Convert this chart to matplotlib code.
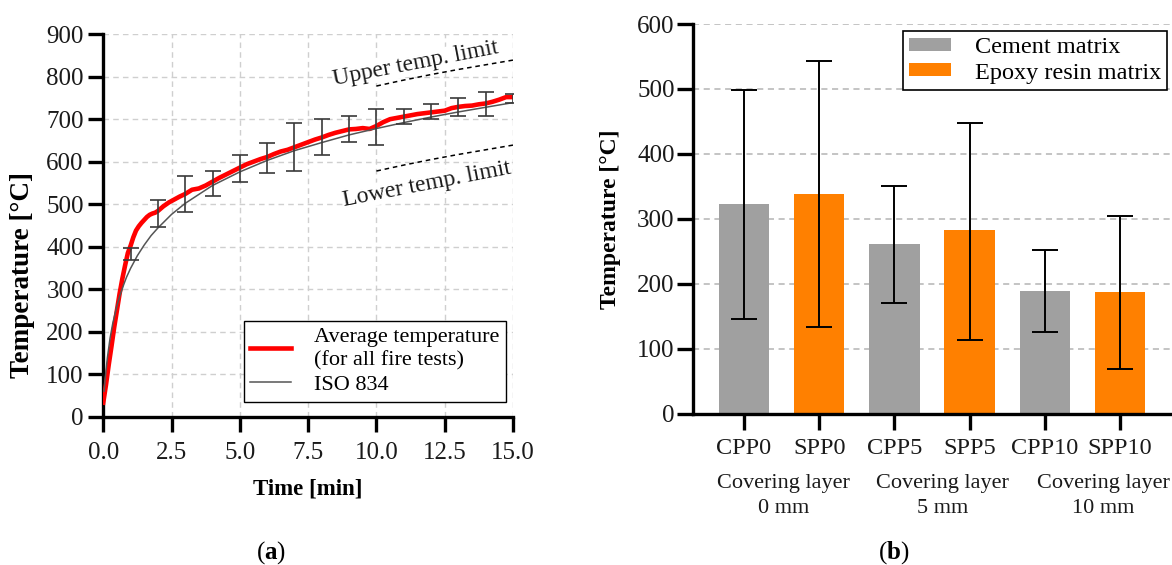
import numpy as np
import matplotlib
matplotlib.use("Agg")
import matplotlib.pyplot as plt
from matplotlib.ticker import FormatStrFormatter

plt.rcParams['font.family'] = ['Liberation Serif', 'DejaVu Serif']
plt.rcParams['mathtext.fontset'] = 'custom'
plt.rcParams['mathtext.rm'] = 'Liberation Serif'
plt.rcParams['mathtext.bf'] = 'Liberation Serif:bold'

# (a) furnace temperature
avg_t = [0.0, 0.1, 0.2, 0.3, 0.4, 0.5, 0.6, 0.7, 0.8, 0.9, 1.0, 1.1, 1.2, 1.3, 1.4,
         1.5, 1.6, 1.7, 1.8, 1.9, 2.0, 2.2, 2.4, 2.6, 2.8, 3.0, 3.25, 3.5, 3.75, 4.0,
         4.25, 4.5, 4.75, 5.0, 5.25, 5.5, 5.75, 6.0, 6.25, 6.5, 6.75, 7.0, 7.25, 7.5,
         7.75, 8.0, 8.25, 8.5, 8.75, 9.0, 9.25, 9.5, 9.75, 10.0, 10.25, 10.5, 10.75,
         11.0, 11.25, 11.5, 11.75, 12.0, 12.25, 12.5, 12.75, 13.0, 13.25, 13.5, 13.75,
         14.0, 14.25, 14.5, 14.75, 15.0]
avg_temp = [33, 75, 122, 165, 210, 250, 290, 325, 356, 385, 402, 422, 438, 448, 456,
            463, 470, 475, 478, 480, 484, 495, 504, 511, 518, 524, 534, 537, 544, 553,
            562, 570, 578, 586, 594, 600, 606, 611, 618, 624, 628, 634, 640, 646,
            652, 657, 663, 668, 672, 676, 677, 679, 677, 684, 693, 700, 703,
            706, 709, 712, 714, 716, 718, 720, 726, 729, 731, 732, 735,
            737, 741, 746, 752, 752]

iso_t = [0.03, 0.1, 0.15, 0.25, 0.35, 0.5, 0.6, 0.75, 0.85, 1.0, 1.25, 1.5, 1.75, 2.0,
         2.5, 3, 4, 5, 6, 7, 8, 9, 10, 11, 12, 13, 14, 15]
iso_temp = [60, 108, 138, 185, 220, 261, 283, 311, 328, 349, 379, 404, 426, 444,
            476, 502, 544, 576, 603, 626, 645, 663, 678, 692, 705, 717, 728, 739]

eb_t = [1, 2, 3, 4, 5, 6, 7, 8, 9, 10, 11, 12, 13, 14, 15]
eb_hi = [398, 510, 566, 578, 616, 645, 691, 701, 707, 725, 724, 736, 749, 765, 760]
eb_lo = [368, 446, 481, 519, 552, 573, 579, 615, 647, 640, 689, 700, 708, 708, 739]

lim_t = [10, 11, 12, 13, 14, 15]
upper_lim = [778, 792, 805, 817, 828, 839]
lower_lim = [578, 592, 605, 617, 628, 639]

# (b) maximum temperatures
samples = ['CPP0', 'SPP0', 'CPP5', 'SPP5', 'CPP10', 'SPP10']
means = [322, 338, 261, 282, 188, 187]
tops = [499, 543, 350, 448, 252, 304]
bottoms = [146, 133, 171, 114, 125, 69]
groups = ['Covering layer\n0 mm', 'Covering layer\n5 mm', 'Covering layer\n10 mm']
group_pos = [0.53, 2.64, 4.78]

GRAY = '#a0a0a0'
ORANGE = '#ff8000'
TXT = '#1a1a1a'

fig = plt.figure(figsize=(11.72, 5.65), dpi=100)

# ---------- (a) ----------
ax = fig.add_axes([0.0881, 0.2625, 0.3496, 0.677])
ax.plot(avg_t, avg_temp, color='red', lw=3.3, label='Average temperature\n(for all fire tests)', zorder=3)
ax.plot(iso_t, iso_temp, color='#555555', lw=1.1, label='ISO 834', zorder=4)
hi = np.array(eb_hi)
lo = np.array(eb_lo)
ax.errorbar(eb_t, (hi + lo) / 2, yerr=(hi - lo) / 2, fmt='none', ecolor='#3a3a3a',
            elinewidth=1.2, capsize=5.5, capthick=1.2, zorder=5)
ax.plot(lim_t, upper_lim, color='black', lw=1.1, ls=(0, (3, 2.5)), zorder=3)
ax.plot(lim_t, lower_lim, color='black', lw=1.1, ls=(0, (3, 2.5)), zorder=3)
ax.text(11.45, 830, 'Upper temp. limit', rotation=11, ha='center', va='center', fontsize=17,
        color=TXT, bbox=dict(facecolor='white', edgecolor='none', pad=0.5), zorder=2)
ax.text(11.85, 547, 'Lower temp. limit', rotation=11, ha='center', va='center', fontsize=17,
        color=TXT, bbox=dict(facecolor='white', edgecolor='none', pad=0.5), zorder=2)

ax.set_xlim(0, 15)
ax.set_ylim(0, 900)
ax.set_xticks(np.arange(0, 15.1, 2.5))
ax.set_yticks(np.arange(0, 901, 100))
ax.xaxis.set_major_formatter(FormatStrFormatter('%.1f'))
ax.grid(True, color='#cfcfcf', ls=(0, (4, 3)), lw=1.0)
ax.set_axisbelow(True)
for s in ['top', 'right']:
    ax.spines[s].set_visible(False)
for s in ['left', 'bottom']:
    ax.spines[s].set_linewidth(2.4)
ax.tick_params(axis='both', width=2.4, length=11, labelsize=18, labelcolor=TXT)
ax.tick_params(axis='x', pad=7)
ax.tick_params(axis='y', pad=3)
ax.set_xlabel('Time [min]', fontsize=16.5, fontweight='bold', labelpad=11)
ax.set_ylabel('Temperature [°C]', fontsize=19.5, fontweight='bold')
ax.yaxis.set_label_coords(-0.167, 0.37)
leg = ax.legend(loc='lower right', bbox_to_anchor=(0.982, 0.039), borderaxespad=0,
                fontsize=16, fancybox=False, edgecolor='black', framealpha=1,
                handlelength=1.85, handletextpad=1.0, borderpad=0.3, labelspacing=0.2)
leg.get_frame().set_linewidth(1.0)
for t in leg.get_texts():
    t.set_linespacing(1.25)

# ---------- (b) ----------
bx = fig.add_axes([0.5917, 0.2681, 0.4083, 0.6894])
pos = np.arange(len(samples))
m = np.array(means)
yerr = [m - np.array(bottoms), np.array(tops) - m]
bx.bar(pos[0::2], m[0::2], width=0.67, color=GRAY, label='Cement matrix', zorder=2)
bx.bar(pos[1::2], m[1::2], width=0.67, color=ORANGE, label='Epoxy resin matrix', zorder=2)
bx.errorbar(pos, m, yerr=yerr, fmt='none', ecolor='black', elinewidth=1.4,
            capsize=9.5, capthick=1.4, zorder=3)

bx.set_xlim(-0.672, 5.69)
bx.set_ylim(0, 600)
bx.set_yticks(np.arange(0, 601, 100))
bx.set_xticks(pos)
bx.set_xticklabels(samples, fontsize=17.5)
bx.yaxis.grid(True, color='#b4b4b4', ls=(0, (4, 3)), lw=1.1)
bx.set_axisbelow(True)
for s in ['top', 'right']:
    bx.spines[s].set_visible(False)
for s in ['left', 'bottom']:
    bx.spines[s].set_linewidth(2.4)
bx.tick_params(axis='both', width=2.4, length=11.5, labelcolor=TXT)
bx.tick_params(axis='x', pad=6)
bx.tick_params(axis='y', labelsize=18, pad=2)
bx.set_ylabel('Temperature [°C]', fontsize=17, fontweight='bold')
bx.yaxis.set_label_coords(-0.152, 0.5)
for g, gp in zip(groups, group_pos):
    bx.text(gp, -0.212, g, transform=bx.get_xaxis_transform(), ha='center', va='center',
            fontsize=16, linespacing=1.4, color=TXT)
leg2 = bx.legend(loc='upper right', bbox_to_anchor=(0.99, 0.983), borderaxespad=0,
                 fontsize=17.5, fancybox=False, edgecolor='black', framealpha=1,
                 handlelength=1.7, handleheight=0.45, handletextpad=1.0,
                 borderpad=0.25, labelspacing=0.2)
leg2.get_frame().set_linewidth(1.2)

fig.text(271 / 1172, 1 - 553 / 565, r'($\mathbf{a}$)', ha='center', va='center', fontsize=18)
fig.text(894 / 1172, 1 - 553 / 565, r'($\mathbf{b}$)', ha='center', va='center', fontsize=18)

fig.savefig('out.png', dpi=100)
